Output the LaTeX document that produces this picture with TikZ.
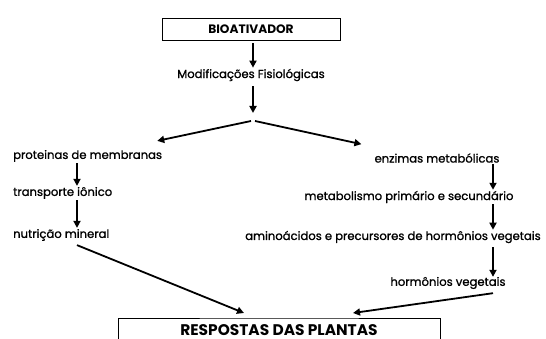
\documentclass[tikz,border=0pt]{standalone}
\usepackage{fontspec}
\setmainfont{Poppins}
\newfontface\lblface{Poppins}[FakeBold=1.2]
\usetikzlibrary{arrows.meta}
\usetikzlibrary{positioning}

\tikzset{
  lbl/.style={inner sep=1pt, font=\lblface\fontsize{11.6}{13}\selectfont},
  titlebox/.style={draw, line width=0.9pt, font=\bfseries\fontsize{12.2}{14}\selectfont},
  arr/.style={line width=2pt, -{Triangle[length=7pt,width=7pt]}},
}

\begin{document}
\begin{tikzpicture}[x=1pt,y=-1pt]
\path[use as bounding box, clip] (0,0) rectangle (546,339);
% top
\node[titlebox, minimum width=178, minimum height=22] (bio) at (251,29) {BIOATIVADOR};
\node[lbl] (modif) at (251,75) {Modificações Fisiológicas};
\coordinate (split) at (253,121);
% left branch
\node[lbl, anchor=west] (prot) at (12,156) {proteinas de membranas};
\node[lbl, anchor=west] (trans) at (12,193) {transporte iônico};
\node[lbl, anchor=west] (nutri) at (12,235) {nutrição mineral};
% right branch
\node[lbl] (enz) at (437,158) {enzimas metabólicas};
\node[lbl] (metab) at (409,197) {metabolismo primário e secundário};
\node[lbl] (amino) at (393,237) {aminoácidos e precursores de hormônios vegetais};
\node[lbl] (horm) at (448,283) {hormônios vegetais};
% bottom (box runs off the page)
\coordinate (resptop) at (279,318);
\draw[line width=0.9pt] (118,345) |- (resptop) -| (440,345);
\node[inner sep=0pt, font=\bfseries\fontsize{15.4}{17}\selectfont, anchor=base] (resp) at (279,335) {RESPOSTAS DAS PLANTAS};

\coordinate (lx) at (77,0);
\coordinate (rx) at (493,0);

\draw[arr, shorten <=3pt] (bio.south -| split) -- (modif.north -| split);
\draw[arr, shorten <=4pt, shorten >=8pt] (modif.south -| split) -- (split);
\draw[arr, line width=1.8pt] ([xshift=-2pt]split) -- ([xshift=-6pt,yshift=8pt]prot.north east);
\draw[arr, line width=1.8pt] ([xshift=2pt]split) -- ([xshift=-12pt,yshift=8pt]enz.north west);

\draw[arr] (prot.south -| lx) -- (trans.north -| lx);
\draw[arr] (trans.south -| lx) -- (nutri.north -| lx);
\draw[arr, line width=1.8pt] ([yshift=-3pt]nutri.south -| lx) -- ([xshift=-35pt,yshift=5pt]resptop);

\draw[arr] (enz.south -| rx) -- (metab.north -| rx);
\draw[arr] (metab.south -| rx) -- (amino.north -| rx);
\draw[arr] ([yshift=-3pt]amino.south -| rx) -- ([yshift=-1pt]horm.north -| rx);
\draw[arr, line width=1.8pt] ([yshift=-3pt]horm.south -| rx) -- ([xshift=74pt,yshift=5pt]resptop);
\end{tikzpicture}
\end{document}
